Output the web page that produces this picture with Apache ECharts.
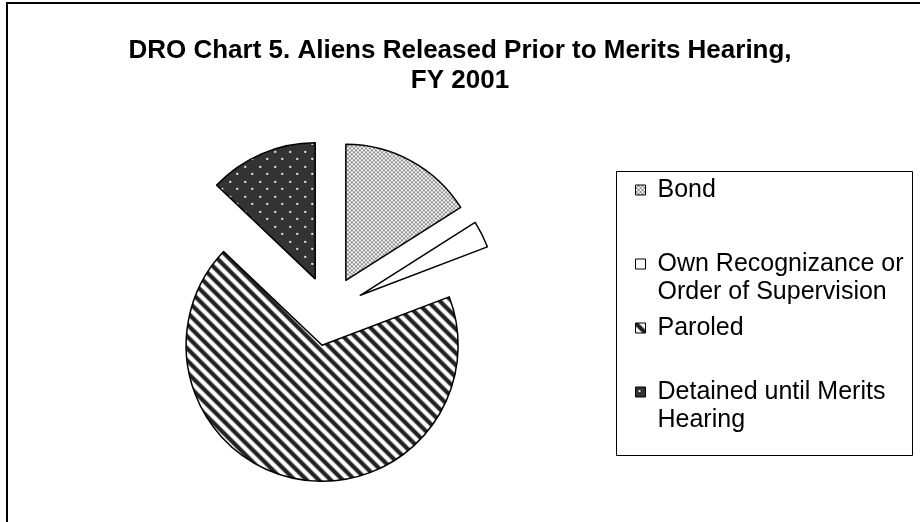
<!DOCTYPE html>
<html><head><meta charset="utf-8">
<script src="https://cdn.jsdelivr.net/npm/echarts@6/dist/echarts.min.js"></script>
<style>html,body{margin:0;padding:0;background:#fff}#c{width:920px;height:522px}</style>
</head><body><div id="c"></div><script>
const categories = ['Bond', 'Own Recognizance or Order of Supervision', 'Paroled', 'Detained until Merits Hearing'];
const values = [16.0, 3.2, 67.9, 12.9];
const legendLabels = ['Bond', 'Own Recognizance or\nOrder of Supervision', 'Paroled', 'Detained until Merits\nHearing'];
const titleText = 'DRO Chart 5. Aliens Released Prior to Merits Hearing,\nFY 2001';

function makePattern(w, h, draw) {
  const c = document.createElement('canvas');
  c.width = w; c.height = h;
  const g = c.getContext('2d');
  draw(g, w, h);
  return { image: c, repeat: 'repeat' };
}
const checker = makePattern(4, 4, (g) => {
  g.fillStyle = '#8a8a8a'; g.fillRect(0, 0, 4, 4);
  g.fillStyle = '#ffffff'; g.fillRect(0, 0, 2, 2); g.fillRect(2, 2, 2, 2);
});
const stripes = makePattern(12, 12, (g) => {
  g.fillStyle = '#fff'; g.fillRect(0, 0, 12, 12);
  g.strokeStyle = '#222'; g.lineWidth = 4.2;
  [-12, 0, 12].forEach(o => { g.beginPath(); g.moveTo(o - 2, -2); g.lineTo(o + 14, 14); g.stroke(); });
});
const dots = makePattern(15, 15, (g) => {
  g.fillStyle = '#333'; g.fillRect(0, 0, 15, 15);
  g.fillStyle = '#e8e8e8';
  g.fillRect(3, 3, 2, 2); g.fillRect(10, 10, 2, 2);
});
const fills = [checker, '#ffffff', stripes, dots];

const legendTops = [176, 222, 314, 350];

const chart = echarts.init(document.getElementById('c'), null, { renderer: 'canvas' });
chart.setOption({
  animation: false,
  backgroundColor: '#fff',
  title: {
    text: titleText, left: 'center', top: 36, padding: 0,
    textStyle: { fontFamily: 'Liberation Sans, Arial, sans-serif', fontSize: 26, fontWeight: 'bold', color: '#000', lineHeight: 30 }
  },
  legend: categories.map((name, i) => ({
    data: [name], orient: 'vertical', left: 635, top: legendTops[i], padding: 0,
    itemWidth: 10, itemHeight: 10, icon: 'rect', selectedMode: false,
    formatter: () => (legendLabels[i].indexOf('\n') >= 0 ? '\n' : '') + legendLabels[i],
    textStyle: { fontFamily: 'Liberation Sans, Arial, sans-serif', fontSize: 25, color: '#000', lineHeight: 28, padding: [0, 0, 0, 7] },
    itemStyle: { borderColor: '#000', borderWidth: 1 }
  })),
  graphic: [
    { type: 'polyline', shape: { points: [[7, 522], [7, 3], [920, 3]] }, style: { stroke: '#000', lineWidth: 2, fill: null }, silent: true },
    { type: 'rect', shape: { x: 616.5, y: 171.5, width: 296, height: 284 }, style: { stroke: '#000', lineWidth: 1, fill: null }, silent: true }
  ],
  series: [{
    type: 'pie', center: [329, 311], radius: 136, startAngle: 90, clockwise: true,
    selectedMode: 'multiple', selectedOffset: 35,
    label: { show: false }, labelLine: { show: false },
    emphasis: { disabled: true },
    itemStyle: { borderColor: '#000', borderWidth: 1.5 },
    data: categories.map((name, i) => ({ name, value: values[i], selected: true, itemStyle: { color: fills[i] } }))
  }]
});
</script></body></html>
